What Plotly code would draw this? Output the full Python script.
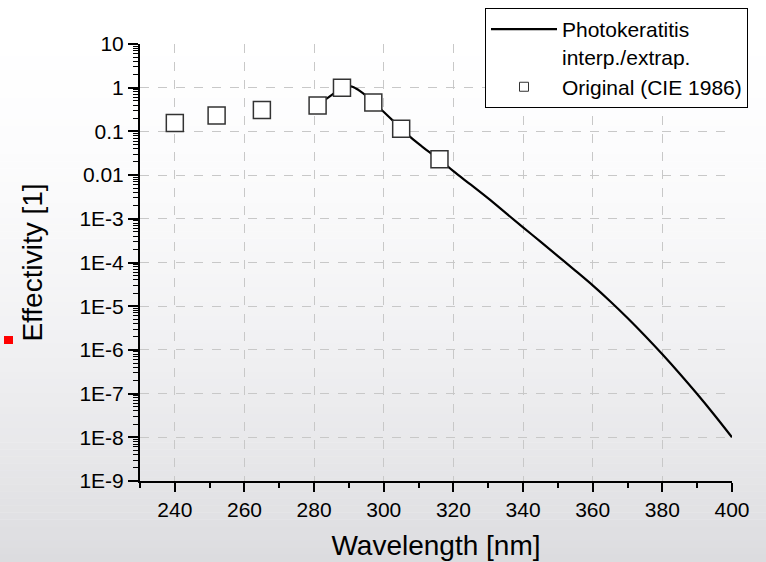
import plotly.graph_objects as go

# Original CIE 1986 data points
orig_wl = [240, 252, 265, 281, 288, 297, 305, 316]
orig_val = [0.155, 0.23, 0.31, 0.39, 1.0, 0.46, 0.115, 0.023]

# Interpolated / extrapolated curve
curve_wl = [281, 283, 285, 287, 288, 289, 290, 291, 292, 293, 295, 297, 299, 301, 303, 305,
            308, 311, 313, 316, 320, 325, 330, 335, 340, 345, 350, 355, 360, 365, 370, 375,
            380, 385, 390, 395, 400]
curve_val = [0.39, 0.52, 0.68, 0.88, 1.0, 1.07, 1.09, 1.05, 0.96, 0.86, 0.65, 0.46, 0.33, 0.235,
             0.165, 0.115, 0.07, 0.045, 0.034, 0.023, 0.0123, 6.03e-3, 2.92e-3, 1.365e-3, 6.38e-4,
             2.99e-4, 1.40e-4, 6.53e-5, 2.99e-5, 1.30e-5, 5.37e-6, 2.11e-6, 7.94e-7, 2.85e-7,
             9.77e-8, 3.20e-8, 1.0e-8]

y_tickvals = [1e-9, 1e-8, 1e-7, 1e-6, 1e-5, 1e-4, 1e-3, 1e-2, 1e-1, 1, 10]
y_ticktext = ["1E-9", "1E-8", "1E-7", "1E-6", "1E-5", "1E-4", "1E-3", "0.01", "0.1", "1", "10"]
x_tickvals = [240, 260, 280, 300, 320, 340, 360, 380, 400]

W, H = 766, 562
L, R, T, B = 140, 34, 44, 81
pw, ph = W - L - R, H - T - B

fig = go.Figure()
fig.add_trace(go.Scatter(
    x=curve_wl, y=curve_val, mode="lines", line=dict(color="black", width=2.2, shape="spline"),
    name="Photokeratitis<br>interp./extrap."))
fig.add_trace(go.Scatter(
    x=orig_wl, y=orig_val, mode="markers", showlegend=False,
    marker=dict(symbol="square", size=17, color="white", line=dict(color="#333333", width=1.5)),
    name="Original (CIE 1986)"))
fig.add_trace(go.Scatter(
    x=[None], y=[None], mode="markers",
    marker=dict(symbol="square", size=9, color="white", line=dict(color="#333333", width=1)),
    name="Original (CIE 1986)"))

# background gradient bands
shapes = []
n = 80
for i in range(n):
    y0p = i * H / n
    y1p = (i + 1) * H / n
    t = (y0p + y1p) / 2 / H
    lvl = 255 - 35 * t ** 1.8
    r = int(round(lvl)); b = min(255, int(round(lvl + 3 * t)))
    shapes.append(dict(type="rect", xref="paper", yref="paper", layer="below",
                       x0=(0 - L) / pw, x1=(W - L) / pw,
                       y0=(H - B - y1p) / ph, y1=(H - B - y0p) / ph + 0.001,
                       fillcolor=f"rgb({r},{r},{b})", line=dict(width=0)))
# small red marker at left
shapes.append(dict(type="rect", xref="paper", yref="paper", layer="above",
                   x0=(4 - L) / pw, x1=(13 - L) / pw,
                   y0=(H - B - 344) / ph, y1=(H - B - 336) / ph,
                   fillcolor="red", line=dict(width=0)))

fig.update_layout(
    width=W, height=H,
    margin=dict(l=L, r=R, t=T, b=B, autoexpand=False),
    paper_bgcolor="white", plot_bgcolor="rgba(0,0,0,0)",
    font=dict(family="Liberation Sans, Arial, sans-serif", color="black", size=21),
    shapes=shapes,
    showlegend=True,
    legend=dict(x=(485 - L) / pw, y=(H - B - 8) / ph, xanchor="left", yanchor="top",
                bgcolor="white", bordercolor="black", borderwidth=1,
                font=dict(size=21), valign="top", tracegroupgap=0,
                itemwidth=66),
)
fig.update_xaxes(
    range=[230, 400], tickvals=x_tickvals, ticks="outside", ticklen=9, tickwidth=2,
    tickcolor="black", showline=True, linecolor="black", linewidth=2,
    showgrid=True, gridcolor="#c8c8c8", griddash="dash", gridwidth=1, zeroline=False,
    tickfont=dict(size=21), ticklabelstandoff=0,
    minor=dict(ticks="outside", ticklen=5, tickwidth=2, tickcolor="black", dtick=10, tick0=230, showgrid=False),
    title=dict(text="Wavelength [nm]", font=dict(size=28), standoff=15),
)
fig.update_yaxes(
    type="log", range=[-9, 1], tickvals=y_tickvals, ticktext=y_ticktext, ticks="outside",
    ticklen=10, tickwidth=2, tickcolor="black", showline=True, linecolor="black", linewidth=2,
    showgrid=True, gridcolor="#c8c8c8", griddash="dash", gridwidth=1, zeroline=False,
    tickfont=dict(size=21),
    minor=dict(ticks="outside", ticklen=5, tickwidth=1, tickcolor="black", dtick="D1", showgrid=False),
    title=dict(text="Effectivity [1]", font=dict(size=28), standoff=29),
)
fig.write_html("out.html", config={"displayModeBar": False},
               post_script="document.body.style.margin='0';")
